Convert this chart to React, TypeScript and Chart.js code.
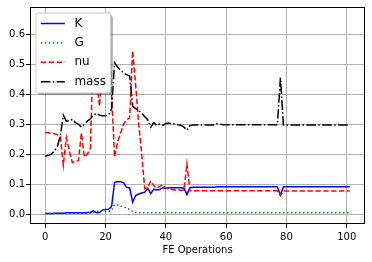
import React, { useEffect, useRef } from "react";
import { Chart, registerables } from "chart.js";

Chart.register(...registerables);

// ---- data ----
const K = [
  0.002, 0.002, 0.002, 0.003, 0.003, 0.003, 0.003, 0.004, 0.004, 0.004,
  0.004, 0.004, 0.004, 0.004, 0.005, 0.006, 0.011, 0.004, 0.005, 0.014,
  0.015, 0.016, 0.025, 0.106, 0.108, 0.108, 0.104, 0.089, 0.087, 0.04,
  0.062, 0.067, 0.07, 0.073, 0.086, 0.068, 0.083, 0.08, 0.082, 0.088,
  0.086, 0.088, 0.088, 0.088, 0.088, 0.088, 0.087, 0.065, 0.088, 0.089,
  0.089, 0.089, 0.089, 0.089, 0.089, 0.089, 0.089, 0.091, 0.091, 0.091,
  0.091, 0.091, 0.091, 0.091, 0.091, 0.091, 0.091, 0.091, 0.091, 0.091,
  0.091, 0.091, 0.091, 0.091, 0.091, 0.091, 0.091, 0.091, 0.063, 0.091,
  0.091, 0.091, 0.091, 0.091, 0.091, 0.091, 0.091, 0.091, 0.091, 0.091,
  0.091, 0.091, 0.091, 0.091, 0.091, 0.091, 0.091, 0.091, 0.091, 0.091,
  0.091, 0.091,
];

const G = [
  0.002, 0.002, 0.002, 0.002, 0.002, 0.002, 0.002, 0.002, 0.002, 0.002,
  0.002, 0.002, 0.002, 0.002, 0.002, 0.003, 0.005, 0.006, 0.011, 0.009,
  0.008, 0.008, 0.012, 0.032, 0.03, 0.027, 0.024, 0.02, 0.015, 0.008,
  0.005, 0.004, 0.004, 0.004, 0.004, 0.004, 0.004, 0.004, 0.004, 0.004,
  0.004, 0.004, 0.004, 0.004, 0.004, 0.004, 0.004, 0.004, 0.004, 0.004,
  0.004, 0.004, 0.004, 0.004, 0.004, 0.004, 0.004, 0.004, 0.004, 0.004,
  0.004, 0.004, 0.004, 0.004, 0.004, 0.004, 0.004, 0.004, 0.004, 0.004,
  0.004, 0.004, 0.004, 0.004, 0.004, 0.004, 0.004, 0.004, 0.004, 0.004,
  0.004, 0.004, 0.004, 0.004, 0.004, 0.004, 0.004, 0.004, 0.004, 0.004,
  0.004, 0.004, 0.004, 0.004, 0.004, 0.004, 0.004, 0.004, 0.004, 0.004,
  0.004, 0.004,
];

const NU = [
  0.272, 0.271, 0.27, 0.268, 0.265, 0.26, 0.163, 0.255, 0.21, 0.172,
  0.176, 0.178, 0.27, 0.19, 0.2, 0.22, 0.6, 0.45, 0.36, 0.5,
  0.6, 0.658, 0.4, 0.19, 0.24, 0.27, 0.3, 0.315, 0.32, 0.545,
  0.43, 0.3, 0.2, 0.085, 0.09, 0.11, 0.095, 0.086, 0.093, 0.097,
  0.085, 0.086, 0.082, 0.08, 0.08, 0.079, 0.08, 0.168, 0.078, 0.078,
  0.078, 0.078, 0.078, 0.078, 0.078, 0.078, 0.078, 0.078, 0.078, 0.078,
  0.078, 0.078, 0.078, 0.078, 0.078, 0.078, 0.078, 0.078, 0.078, 0.078,
  0.078, 0.078, 0.078, 0.078, 0.078, 0.078, 0.078, 0.078, 0.062, 0.077,
  0.077, 0.077, 0.077, 0.077, 0.077, 0.077, 0.077, 0.077, 0.077, 0.077,
  0.077, 0.077, 0.077, 0.077, 0.077, 0.077, 0.077, 0.077, 0.077, 0.077,
  0.077, 0.077,
];

const MASS = [
  0.194, 0.195, 0.2, 0.21, 0.225, 0.26, 0.33, 0.31, 0.312, 0.316,
  0.305, 0.3, 0.29, 0.3, 0.31, 0.318, 0.33, 0.336, 0.33, 0.328,
  0.328, 0.33, 0.35, 0.505, 0.49, 0.48, 0.47, 0.465, 0.46, 0.36,
  0.352, 0.345, 0.336, 0.325, 0.315, 0.29, 0.305, 0.295, 0.3, 0.296,
  0.302, 0.304, 0.3, 0.3, 0.298, 0.296, 0.29, 0.28, 0.295, 0.297,
  0.297, 0.297, 0.297, 0.297, 0.297, 0.297, 0.297, 0.302, 0.3, 0.298,
  0.298, 0.298, 0.298, 0.298, 0.298, 0.298, 0.298, 0.298, 0.298, 0.298,
  0.298, 0.298, 0.298, 0.298, 0.298, 0.298, 0.298, 0.298, 0.455, 0.297,
  0.297, 0.297, 0.297, 0.297, 0.297, 0.297, 0.297, 0.297, 0.297, 0.297,
  0.297, 0.297, 0.297, 0.297, 0.297, 0.297, 0.297, 0.297, 0.297, 0.297,
  0.297, 0.297,
];

const X_TICKS = [0, 20, 40, 60, 80, 100];
const Y_TICKS = [0.0, 0.1, 0.2, 0.3, 0.4, 0.5, 0.6];
const X_TITLE = "FE Operations";

const SERIES = [
  { label: "K", data: K, color: "#0000ff", dash: [] as number[] },
  { label: "G", data: G, color: "#008000", dash: [1.5, 2.5] },
  { label: "nu", data: NU, color: "#ff0000", dash: [5.5, 2.4] },
  { label: "mass", data: MASS, color: "#000000", dash: [9.6, 2.4, 1.5, 2.4] },
];

const FONT = '"DejaVu Sans", sans-serif';

const mplPlugin = {
  id: "mplFrameLegend",
  afterDraw(chart: any) {
    const { ctx, chartArea: ca } = chart;
    ctx.save();
    // spines
    ctx.setLineDash([]);
    ctx.strokeStyle = "#000";
    ctx.lineWidth = 1;
    const x0 = Math.floor(ca.left) + 0.5;
    const y0 = Math.floor(ca.top) + 0.5;
    const x1 = Math.ceil(ca.right) - 0.5;
    const y1 = Math.ceil(ca.bottom) - 0.5;
    ctx.strokeRect(x0, y0, x1 - x0, y1 - y0);

    // legend
    const fs = 12;
    ctx.font = `${fs}px ${FONT}`;
    const pad = 4.8;
    const handleLen = 24;
    const textPad = 9.6;
    const maxW = Math.max(...SERIES.map((s) => ctx.measureText(s.label).width));
    const bx = ca.left + 6;
    const by = ca.top + 6;
    const bw = pad * 2 + handleLen + textPad + maxW;
    const bh = 80;
    const r = 2.4;
    const rr = (x: number, y: number, w: number, h: number) => {
      ctx.beginPath();
      if (ctx.roundRect) ctx.roundRect(x, y, w, h, r);
      else ctx.rect(x, y, w, h);
    };
    // shadow
    rr(bx + 2, by + 2, bw, bh);
    ctx.fillStyle = "rgba(77,77,77,0.5)";
    ctx.fill();
    // frame
    rr(bx, by, bw, bh);
    ctx.fillStyle = "#ffffff";
    ctx.fill();
    ctx.strokeStyle = "#cccccc";
    ctx.lineWidth = 1;
    ctx.stroke();

    SERIES.forEach((s, i) => {
      const cy = by + 10.5 + i * 19.4;
      ctx.beginPath();
      ctx.setLineDash(s.dash);
      ctx.strokeStyle = s.color;
      ctx.lineWidth = 1.5;
      ctx.moveTo(bx + pad, cy);
      ctx.lineTo(bx + pad + handleLen, cy);
      ctx.stroke();
      ctx.setLineDash([]);
      ctx.fillStyle = "#000";
      ctx.textAlign = "left";
      ctx.textBaseline = "middle";
      ctx.fillText(s.label, bx + pad + handleLen + textPad, cy);
    });
    ctx.restore();
  },
};

export default function App() {
  const ref = useRef<HTMLCanvasElement>(null);

  useEffect(() => {
    document.body.style.margin = "0";
    const xs = K.map((_, i) => i);
    const chart = new Chart(ref.current as HTMLCanvasElement, {
      type: "line",
      data: {
        datasets: SERIES.map((s, i) => ({
          label: s.label,
          data: s.data.map((v, j) => ({ x: xs[j], y: v })),
          borderColor: s.color,
          backgroundColor: s.color,
          borderWidth: 1.5,
          borderDash: s.dash,
          borderCapStyle: "butt" as const,
          pointRadius: 0,
          tension: 0,
          fill: false,
          order: SERIES.length - i,
        })),
      },
      options: {
        responsive: false,
        animation: false,
        devicePixelRatio: 1,
        layout: { padding: { top: 6, right: 7, left: 0, bottom: 0 } },
        plugins: {
          legend: { display: false },
          tooltip: { enabled: false },
        },
        scales: {
          x: {
            type: "linear",
            min: -5.05,
            max: 106.05,
            afterBuildTicks: (s: any) => {
              s.ticks = X_TICKS.map((v) => ({ value: v }));
            },
            afterFit: (s: any) => {
              s.height = 38;
            },
            grid: {
              color: "#b0b0b0",
              lineWidth: 1,
              tickColor: "#000",
              tickLength: 4,
              drawTicks: true,
            },
            border: { display: false },
            ticks: {
              color: "#000",
              font: { family: FONT, size: 10 },
              padding: 3,
              maxRotation: 0,
              autoSkip: false,
              callback: (v: any) => String(v),
            },
            title: {
              display: true,
              text: X_TITLE,
              color: "#000",
              font: { family: FONT, size: 10 },
              padding: { top: 0, bottom: 6 },
            },
          },
          y: {
            type: "linear",
            min: -0.0332,
            max: 0.6907,
            afterBuildTicks: (s: any) => {
              s.ticks = Y_TICKS.map((v) => ({ value: v }));
            },
            afterFit: (s: any) => {
              s.width = 30;
            },
            grid: {
              color: "#b0b0b0",
              lineWidth: 1,
              tickColor: "#000",
              tickLength: 4,
              drawTicks: true,
            },
            border: { display: false },
            ticks: {
              color: "#000",
              font: { family: FONT, size: 10 },
              padding: 1,
              autoSkip: false,
              callback: (v: any) => Number(v).toFixed(1),
            },
          },
        },
      },
      plugins: [mplPlugin],
    });
    return () => chart.destroy();
  }, []);

  return (
    <div style={{ width: 372, height: 262 }}>
      <canvas ref={ref} width={372} height={262} style={{ display: "block" }} />
    </div>
  );
}
